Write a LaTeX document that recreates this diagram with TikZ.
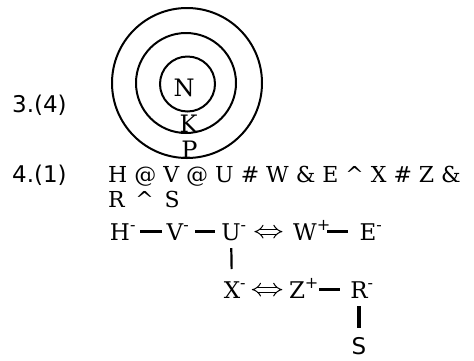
\documentclass[tikz,border=0pt]{standalone}
\usepackage{fontspec}
\setmainfont{DejaVu Serif}
\newfontfamily\sansf{DejaVu Sans}
\usetikzlibrary{arrows.meta}
\begin{document}
\begin{tikzpicture}[x=1pt,y=-1pt,
  ring/.style={draw, circle, line width=2pt, inner sep=0pt},
  ringlabel/.style={anchor=base, inner sep=0pt, font=\fontsize{24}{28}\selectfont},
  numlabel/.style={anchor=base west, inner sep=0pt, font=\sansf\fontsize{23}{27}\selectfont},
  codeline/.style={anchor=base west, inner sep=0pt, font=\fontsize{22}{26}\selectfont},
  letter/.style={anchor=base, inner xsep=1.5pt, inner ysep=0pt, text height=16.8pt, text depth=0pt, font=\fontsize{23}{27}\selectfont},
  sansletter/.style={letter, font=\sansf\fontsize{23}{27}\selectfont},
  bond/.style={line width=2.8pt},
  vbond/.style={line width=2.2pt},
  thickvbond/.style={line width=3.2pt},
  equiv/.style={double, double distance=3.8pt, line width=1pt, {Implies}-{Implies}}
]
\useasboundingbox (0,0) rectangle (474,360);
\fill[white] (0,0) rectangle (474,360);

% question 3
\node[numlabel] (q3) at (12,112) {3.(4)};
\node[ring, minimum size=150pt] (outer) at (187,83) {};
\node[ring, minimum size=100pt] (middle) at (186,83) {};
\node[ring, minimum size=55pt] (inner) at (187.5,84) {};
\node[ringlabel] (N) at (184,96) {N};
\node[ringlabel] (K) at (188.5,132) {K};
\node[ringlabel] (P) at (189.5,158) {P};

% question 4
\node[numlabel] (q4) at (12,182) {4.(1)};
\node[codeline] (l1) at (108,182) {H @ V @ U \# W \& E \textasciicircum{} X \# Z \&};
\node[codeline] (l2) at (108,207) {R \,\textasciicircum{}\, S};

\node[letter] (H) at (120,240) {H\rlap{\textsuperscript{-}}};
\node[letter] (V) at (175,240) {V\rlap{\textsuperscript{-}}};
\node[letter] (U) at (231,240) {U\rlap{\textsuperscript{-}}};
\node[letter] (W) at (305,240) {W\rlap{\textsuperscript{+}}};
\node[letter] (E) at (368,240) {E\rlap{\textsuperscript{-}}};
\node[letter] (X) at (232,298) {X\rlap{\textsuperscript{-}}};
\node[letter] (Z) at (297,298) {Z\rlap{\textsuperscript{+}}};
\node[letter] (R) at (359,298) {R\rlap{\textsuperscript{-}}};
\node[sansletter] (S) at (359,354) {S};

\draw[bond, shorten <=8.5pt, shorten >=3pt] (H) -- (V);
\draw[bond, shorten <=10pt, shorten >=5pt] (V) -- (U);
\draw[equiv, shorten <=12pt, shorten >=9pt] (U) -- (W);
\draw[bond, shorten <=8.7pt, shorten >=10pt] (W) -- (E);
\draw[vbond, shorten <=8pt, shorten >=12pt] (U) -- (X);
\draw[equiv, shorten <=10pt, shorten >=5pt] (X) -- (Z);
\draw[bond, shorten <=12.4pt, shorten >=8.3pt] (Z) -- (R);
\draw[thickvbond, shorten <=8pt, shorten >=9pt] (R) -- (S);
\end{tikzpicture}
\end{document}
